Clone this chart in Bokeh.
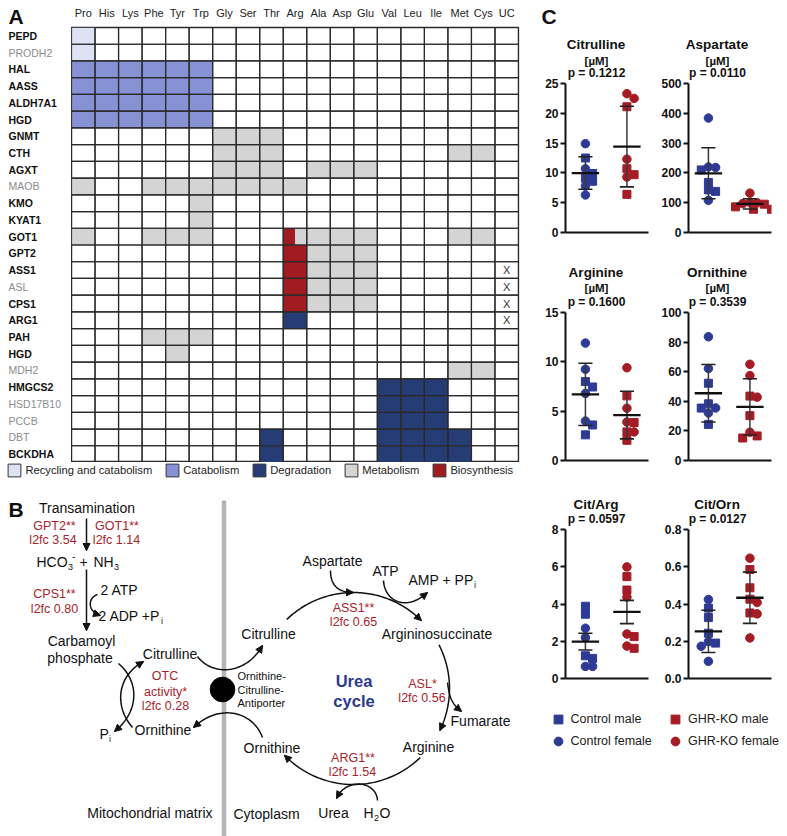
import numpy as np
from bokeh.plotting import figure
from bokeh.models import (FactorRange, Range1d, Legend, LegendItem, Arrow,
                          NormalHead, FixedTicker, NumeralTickFormatter, ColumnDataSource)
from bokeh.layouts import row, column
from bokeh.transform import dodge
from bokeh.embed import file_html
from bokeh.resources import INLINE
from bokeh.core.properties import value

FONT = "Liberation Sans"
BLACK = "#111111"
RED_TXT = "#a8232b"
BLUE = "#2e3a96"
RED = "#a51c24"
UREA_BLUE = "#2b3990"
NAN = float("nan")

# ================= Panel A data =================
amino_acids = ["Pro", "His", "Lys", "Phe", "Tyr", "Trp", "Gly", "Ser", "Thr", "Arg",
               "Ala", "Asp", "Glu", "Val", "Leu", "Ile", "Met", "Cys", "UC"]
genes = ["PEPD", "PRODH2", "HAL", "AASS", "ALDH7A1", "HGD", "GNMT", "CTH", "AGXT", "MAOB",
         "KMO", "KYAT1", "GOT1", "GPT2", "ASS1", "ASL", "CPS1", "ARG1", "PAH", "HGD",
         "MDH2", "HMGCS2", "HSD17B10", "PCCB", "DBT", "BCKDHA"]
gene_bold = [1, 0, 1, 1, 1, 1, 1, 1, 1, 0, 1, 1, 1, 1, 1, 0, 1, 1, 1, 1, 0, 1, 0, 0, 0, 1]
# r=recycling, c=catabolism, d=degradation, m=metabolism, b=biosynthesis,
# h=half biosynthesis / half metabolism, x=urea cycle mark
cell_codes = [
    "r..................",
    "r..................",
    "cccccc.............",
    "cccccc.............",
    "cccccc.............",
    "cccccc.............",
    "......mmm..........",
    "......mmm.......mm.",
    "......mmm.mmm......",
    "m..mmmmmmm.........",
    ".....m.............",
    ".....m.............",
    "m..mmm...hmmm...mm.",
    ".........bmmm......",
    ".........bmmm.....x",
    ".........bmmm.....x",
    ".........bmmm.....x",
    ".........d........x",
    "...mmm.............",
    "....m..............",
    "................mm.",
    ".............ddd...",
    ".............ddd...",
    ".............ddd...",
    "........d....dddd..",
    "........d....dddd..",
]
category_codes = ["r", "c", "d", "m", "b"]
category_labels = ["Recycling and catabolism", "Catabolism", "Degradation", "Metabolism", "Biosynthesis"]
category_colors = ["#dde3f4", "#8792d5", "#263c75", "#d4d4d4", "#a11c20"]

# ================= Panel C data =================
cit_ctrl_male = [12.5, 9.9, 9.1, 8.6]
cit_ctrl_female = [14.9, 10.7, 7.8, 6.3]
cit_ko_male = [21.1, 10.7, 9.7, 6.4]
cit_ko_female = [23.3, 22.5, 12.3, 9.3]
asp_ctrl_male = [210, 168, 143, 138]
asp_ctrl_female = [384, 220, 218, 108]
asp_ko_male = [95, 86, 78, 78]
asp_ko_female = [132, 101, 100, 97]
arg_ctrl_male = [8.0, 7.45, 3.6, 2.6]
arg_ctrl_female = [11.9, 9.25, 6.8, 4.0]
arg_ko_male = [6.55, 3.85, 2.9, 2.05]
arg_ko_female = [9.4, 5.3, 3.9, 2.9]
orn_ctrl_male = [52.2, 38.3, 35.4, 24.4]
orn_ctrl_female = [83.6, 62.1, 35.5, 32.1]
orn_ko_male = [43.5, 30.3, 16.6, 15.2]
orn_ko_female = [65.0, 57.4, 42.8, 19.1]
citarg_ctrl_male = [3.88, 3.45, 1.22, 1.08]
citarg_ctrl_female = [2.70, 2.20, 0.65, 0.65]
citarg_ko_male = [5.47, 4.75, 2.25, 1.62]
citarg_ko_female = [5.99, 4.37, 2.39, 1.74]
citorn_ctrl_male = [0.378, 0.327, 0.243, 0.190]
citorn_ctrl_female = [0.424, 0.198, 0.173, 0.092]
citorn_ko_male = [0.585, 0.487, 0.426, 0.352]
citorn_ko_female = [0.646, 0.408, 0.347, 0.218]

metabolites = ["Citrulline", "Aspartate", "Arginine", "Ornithine", "Cit/Arg", "Cit/Orn"]
units = ["[µM]", "[µM]", "[µM]", "[µM]", "", ""]
p_values = ["p = 0.1212", "p = 0.0110", "p = 0.1600", "p = 0.3539", "p = 0.0597", "p = 0.0127"]
y_max = [25, 500, 15, 100, 8, 0.8]
y_ticks = [[0, 5, 10, 15, 20, 25], [0, 100, 200, 300, 400, 500], [0, 5, 10, 15],
           [0, 20, 40, 60, 80, 100], [0, 2, 4, 6, 8], [0.0, 0.2, 0.4, 0.6, 0.8]]
tick_format = ["0", "0", "0", "0", "0", "0.0"]
error_kind = ["sd", "sd", "sd", "sd", "sem", "sd"]
legend_labels = ["Control male", "Control female", "GHR-KO male", "GHR-KO female"]

series_C = [
    (cit_ctrl_male, cit_ctrl_female, cit_ko_male, cit_ko_female),
    (asp_ctrl_male, asp_ctrl_female, asp_ko_male, asp_ko_female),
    (arg_ctrl_male, arg_ctrl_female, arg_ko_male, arg_ko_female),
    (orn_ctrl_male, orn_ctrl_female, orn_ko_male, orn_ko_female),
    (citarg_ctrl_male, citarg_ctrl_female, citarg_ko_male, citarg_ko_female),
    (citorn_ctrl_male, citorn_ctrl_female, citorn_ko_male, citorn_ko_female),
]

COMMON = dict(toolbar_location=None, output_backend="svg", frame_align=False)


def canvas(x0, y0, w, h):
    """A plain drawing figure whose data coordinates equal page pixels."""
    f = figure(width=w, height=h, x_range=Range1d(x0, x0 + w), y_range=Range1d(y0 + h, y0),
               min_border=0, x_axis_location=None, y_axis_location=None,
               outline_line_color=None, **COMMON)
    f.grid.visible = False
    return f


def put_text(f, s, x, y, size=14, color=BLACK, align="left", style="normal", baseline="middle"):
    f.text(x=[x], y=[y], text=[s], text_font=value(FONT), text_font_size=f"{size}px",
           text_color=color, text_align=align, text_baseline=baseline, text_font_style=style)


# ================= Panel A =================
NR, NC = len(genes), len(amino_acids)
row_keys = [f"{i:02d}-{g}" for i, g in enumerate(genes)]
A_LEFT, A_TOP, A_RIGHT = 71, 27, 22
A_H = 462
pa = figure(width=540 - A_LEFT, height=A_H, x_range=FactorRange(factors=amino_acids),
            y_range=FactorRange(factors=row_keys[::-1]), x_axis_location="above",
            y_axis_location=None, min_border_left=0, min_border_right=A_RIGHT,
            min_border_top=A_TOP, min_border_bottom=0,
            outline_line_color="#2a2a2a", outline_line_width=1.3, **COMMON)
pa.xgrid.visible = False
pa.ygrid.visible = False
xa = pa.xaxis[0]
xa.axis_line_color = None
xa.major_tick_line_color = None
xa.minor_tick_line_color = None
xa.major_label_standoff = 3
xa.major_label_text_font = FONT
xa.major_label_text_font_size = "11px"
xa.major_label_text_color = "#222222"

for code, color in zip(category_codes, category_colors):
    xs, ys = [], []
    for i, codes in enumerate(cell_codes):
        for j, c in enumerate(codes):
            if c == code or (code == "m" and c == "h"):
                xs.append(amino_acids[j]); ys.append(row_keys[i])
    pa.rect(x=xs, y=ys, width=1, height=1, fill_color=color, line_color=None)

hx, hy = [], []
for i, codes in enumerate(cell_codes):
    for j, c in enumerate(codes):
        if c == "h":
            hx.append(amino_acids[j]); hy.append(row_keys[i])
pa.rect(x=dodge("x", -0.25, range=pa.x_range), y="y", width=0.5, height=1,
        source=ColumnDataSource(dict(x=hx, y=hy)), fill_color=category_colors[4], line_color=None)

gx = [a for _ in row_keys for a in amino_acids]
gy = [r for r in row_keys for _ in amino_acids]
pa.rect(x=gx, y=gy, width=1, height=1, fill_color=None, line_color="#2a2a2a", line_width=1.2)

xx, xy = [], []
for i, codes in enumerate(cell_codes):
    for j, c in enumerate(codes):
        if c == "x":
            xx.append(amino_acids[j]); xy.append(row_keys[i])
pa.text(x=xx, y=xy, text=["X"] * len(xx), text_align="center", text_baseline="middle",
        text_font=value(FONT), text_font_size="11px", text_color="#333333")

# row labels of panel A (drawn in a narrow label strip left of the grid)
plab = canvas(0, 0, A_LEFT, A_H)
row_h = (A_H - A_TOP) / NR
put_text(plab, "A", 8, 4, 21, BLACK, "left", "bold", "top")
plab.text(x=[8] * NR, y=[A_TOP + (i + 0.5) * row_h for i in range(NR)], text=genes,
          text_font=value(FONT), text_font_size="10.5px",
          text_font_style=["bold" if b else "normal" for b in gene_bold],
          text_color=[BLACK if b else "#8c8c8c" for b in gene_bold],
          text_align="left", text_baseline="middle")

# ================= Panel B (diagram) =================
pb = canvas(0, A_H, 540, 836 - A_H)

items = []
for lab, color in zip(category_labels, category_colors):
    r = pb.rect(x=[NAN], y=[NAN], width=1, height=1, fill_color=color, line_color="#333333", line_width=1)
    items.append(LegendItem(label=lab, renderers=[r]))
legA = Legend(items=items, orientation="horizontal", location=(6.4, 836 - A_H - 16),
              margin=0, padding=0, spacing=12, glyph_width=16, glyph_height=16, label_standoff=3,
              label_height=16, label_text_font=FONT, label_text_font_size="11.2px",
              label_text_color="#222222", border_line_color=None, background_fill_alpha=0)
pb.add_layout(legA)

labels_B = [
    ("B", 8, 509, 21, BLACK, "left", "bold"),
    ("Transamination", 86.5, 507, 14, BLACK, "center", "normal"),
    ("GPT2**", 54, 525, 12.5, RED_TXT, "center", "normal"),
    ("l2fc 3.54", 52.5, 539, 12.5, RED_TXT, "center", "normal"),
    ("GOT1**", 116.5, 525, 12.5, RED_TXT, "center", "normal"),
    ("l2fc 1.14", 116, 539, 12.5, RED_TXT, "center", "normal"),
    ("HCO", 36, 561, 14, BLACK, "left", "normal"),
    ("3", 67.5, 566, 9, BLACK, "left", "normal"),
    ("-", 71.5, 555, 10, BLACK, "left", "normal"),
    ("+", 79, 561, 14, BLACK, "left", "normal"),
    ("NH", 93, 561, 14, BLACK, "left", "normal"),
    ("3", 113.5, 566, 9, BLACK, "left", "normal"),
    ("CPS1**", 54, 593, 12.5, RED_TXT, "center", "normal"),
    ("l2fc 0.80", 54, 608, 12.5, RED_TXT, "center", "normal"),
    ("2 ATP", 100, 589, 14, BLACK, "left", "normal"),
    ("2 ADP +P", 98, 615, 14, BLACK, "left", "normal"),
    ("i", 160.5, 620, 9, BLACK, "left", "normal"),
    ("Carbamoyl", 81, 640, 14, BLACK, "center", "normal"),
    ("phosphate", 79.5, 657, 14, BLACK, "center", "normal"),
    ("Citrulline", 169.5, 653, 14, BLACK, "center", "normal"),
    ("OTC", 164.5, 675, 12.5, RED_TXT, "center", "normal"),
    ("activity*", 165, 691, 12.5, RED_TXT, "center", "normal"),
    ("l2fc 0.28", 165, 705, 12.5, RED_TXT, "center", "normal"),
    ("P", 99, 733, 14, BLACK, "left", "normal"),
    ("i", 108.5, 738, 9, BLACK, "left", "normal"),
    ("Ornithine", 162.5, 729, 14, BLACK, "center", "normal"),
    ("Ornithine-", 237, 675, 11, BLACK, "left", "normal"),
    ("Citrulline-", 237, 689, 11, BLACK, "left", "normal"),
    ("Antiporter", 237, 702, 11, BLACK, "left", "normal"),
    ("Mitochondrial matrix", 212, 812, 14, BLACK, "right", "normal"),
    ("Cytoplasm", 233, 813, 14, BLACK, "left", "normal"),
    ("Citrulline", 268, 633, 14, BLACK, "center", "normal"),
    ("Aspartate", 332, 560, 14, BLACK, "center", "normal"),
    ("ATP", 385, 570, 14, BLACK, "center", "normal"),
    ("AMP + PP", 408, 579, 14, BLACK, "left", "normal"),
    ("i", 473.5, 584, 9, BLACK, "left", "normal"),
    ("ASS1**", 353, 607, 12.5, RED_TXT, "center", "normal"),
    ("l2fc 0.65", 353, 621, 12.5, RED_TXT, "center", "normal"),
    ("Argininosuccinate", 436.5, 633, 14, BLACK, "center", "normal"),
    ("Urea", 353.5, 680, 16.5, UREA_BLUE, "center", "bold"),
    ("cycle", 353.5, 700, 16.5, UREA_BLUE, "center", "bold"),
    ("ASL*", 422, 683, 12.5, RED_TXT, "center", "normal"),
    ("l2fc 0.56", 421.5, 697, 12.5, RED_TXT, "center", "normal"),
    ("Fumarate", 480, 720, 14, BLACK, "center", "normal"),
    ("Arginine", 428, 746, 14, BLACK, "center", "normal"),
    ("Ornithine", 271.5, 747, 14, BLACK, "center", "normal"),
    ("ARG1**", 352.5, 757, 12.5, RED_TXT, "center", "normal"),
    ("l2fc 1.54", 352, 771, 12.5, RED_TXT, "center", "normal"),
    ("Urea", 333, 812, 14, BLACK, "center", "normal"),
    ("H", 363, 812, 14, BLACK, "left", "normal"),
    ("2", 373.5, 817, 9, BLACK, "left", "normal"),
    ("O", 379, 812, 14, BLACK, "left", "normal"),
]

pb.segment(x0=[223.5], y0=[500], x1=[223.5], y1=[836], line_width=4.5, line_color="#b4b4b4")
pb.circle(x=[222], y=[689], radius=12.3, fill_color="black", line_color="black")

for s, x, y, size, color, align, style in labels_B:
    put_text(pb, s, x, y, size, color, align, style)


def head(xs, ys, x1, y1):
    pb.add_layout(Arrow(x_start=xs, y_start=ys, x_end=x1, y_end=y1, line_color=None,
                        end=NormalHead(size=7, fill_color=BLACK, line_color=BLACK, line_width=1)))


def straight(x0, y0, x1, y1):
    pb.line(x=[x0, x1], y=[y0, y1], line_width=1.5, line_color=BLACK)
    head(x0, y0, x1, y1)


def bez(p0, c0, c1, p1):
    t = np.linspace(0, 1, 40)
    bx = (1 - t) ** 3 * p0[0] + 3 * (1 - t) ** 2 * t * c0[0] + 3 * (1 - t) * t ** 2 * c1[0] + t ** 3 * p1[0]
    by = (1 - t) ** 3 * p0[1] + 3 * (1 - t) ** 2 * t * c0[1] + 3 * (1 - t) * t ** 2 * c1[1] + t ** 3 * p1[1]
    pb.line(x=bx, y=by, line_width=1.5, line_color=BLACK)
    head(bx[-4], by[-4], bx[-1], by[-1])


def arc(cx, cy, r, a0, a1):
    a = np.radians(np.linspace(a0, a1, 80))
    ax = cx + r * np.cos(a)
    ay = cy - r * np.sin(a)
    pb.line(x=ax, y=ay, line_width=1.5, line_color=BLACK)
    head(ax[-4], ay[-4], ax[-1], ay[-1])


straight(86, 518, 86, 550)
straight(86, 569, 86, 630)
bez((97, 594), (86, 598), (88, 612), (100, 615))
bez((118, 663), (140, 682), (138, 712), (114, 731))
bez((132, 727), (113, 705), (117, 675), (143, 661))
bez((197, 656), (212, 676), (246, 674), (262, 645))
bez((262, 737), (252, 710), (218, 703), (193, 727))
bez((330, 570), (330, 587), (340, 592), (353, 592))
bez((383, 580), (384, 600), (405, 612), (427, 592))
bez((447, 682), (449, 698), (452, 704), (461, 711))
bez((377, 800), (376, 780), (345, 777), (336, 798))
arc(353, 688, 96, 134, 45)
arc(353, 688, 96, 27, -26)
arc(353, 688, 96, -46, -136)

# ================= Panel C =================
# header strips with the metabolite names: (top, height, name y)
headers = [(0, 52, 44), (250, 30, 272), (490, 22, 504)]
# plot rows: (top, height, x-axis y, y of axis top, unit y, p-value y)
plot_rows = [(52, 198, 232, 83, 60, 72),
             (280, 210, 460, 312, 287, 301),
             (512, 178, 678, 529, None, 518)]
# plot columns: (left, width, left border, right border, title centre x)
plot_cols = [(540, 118, 25, 10, 596), (658, 129, 30, 16, 717)]


def swarm(vals, px_per_unit, diam=7.0, step=3.6):
    vals = np.asarray(vals, float)
    order = np.argsort(-vals)
    placed = []
    off = np.zeros(len(vals))
    cands = [0.0]
    for k in range(1, 8):
        cands += [k * step, -k * step]
    for i in order:
        y = vals[i] * px_per_unit
        chosen = cands[-1]
        for dx in cands:
            if all((dx - qx) ** 2 + (y - qy) ** 2 >= diam ** 2 for qx, qy in placed):
                chosen = dx
                break
        placed.append((chosen, y))
        off[i] = chosen
    return off


def scatter_panel(k, col, rw):
    left0, w, bl, br, tcx = col
    top, h, xaxis_y, ymax_y, unit_y, p_y = rw
    fw = w - bl - br
    fh = xaxis_y - top
    bb = top + h - xaxis_y
    ymax = y_max[k]
    ppu = (xaxis_y - ymax_y) / ymax
    p = figure(width=w, height=h, x_range=Range1d(0.52, 2.52), y_range=Range1d(0, fh / ppu),
               min_border_left=bl, min_border_right=br, min_border_top=0, min_border_bottom=bb,
               outline_line_color=None, **COMMON)
    p.grid.visible = False
    ya = p.yaxis[0]
    ya.bounds = (0, ymax)
    ya.ticker = FixedTicker(ticks=y_ticks[k])
    ya.formatter = NumeralTickFormatter(format=tick_format[k])
    ya.axis_line_width = 2
    ya.axis_line_color = BLACK
    ya.major_tick_line_width = 2
    ya.major_tick_line_color = BLACK
    ya.major_tick_out = 5
    ya.major_tick_in = 0
    ya.minor_tick_line_color = None
    ya.major_label_standoff = 2
    ya.major_label_text_font = FONT
    ya.major_label_text_font_size = "12px"
    ya.major_label_text_font_style = "bold"
    ya.major_label_text_color = BLACK
    xax = p.xaxis[0]
    xax.ticker = FixedTicker(ticks=[])
    xax.axis_line_width = 2
    xax.axis_line_color = BLACK
    xax.major_tick_line_color = None
    xax.minor_tick_line_color = None
    xax.major_tick_out = 0
    xax.major_label_standoff = 0

    xsc = 2.0 / fw
    cm, cf, km, kf = series_C[k]
    for gi, (male, female, color) in enumerate([(cm, cf, BLUE), (km, kf, RED)]):
        center = gi + 1
        vals = list(male) + list(female)
        off = swarm(vals, ppu)
        xs = center + off * xsc
        nm = len(male)
        p.scatter(x=xs[:nm], y=male, marker="square", size=8, fill_color=color, line_color=color)
        p.scatter(x=xs[nm:], y=female, marker="circle", size=8.5, fill_color=color, line_color=color)
        arr = np.asarray(vals, float)
        m = arr.mean()
        sd = arr.std(ddof=1)
        e = sd if error_kind[k] == "sd" else sd / np.sqrt(len(arr))
        p.segment(x0=[center], y0=[m - e], x1=[center], y1=[m + e], line_width=1.5, line_color="#3a3a3a")
        p.segment(x0=[center - 0.17] * 2, y0=[m - e, m + e], x1=[center + 0.17] * 2, y1=[m - e, m + e],
                  line_width=1.6, line_color="#222222")
        p.segment(x0=[center - 0.33], y0=[m], x1=[center + 0.33], y1=[m], line_width=2.3, line_color=BLACK)

    # unit and p-value lines, placed above the axis top inside the frame
    tx = 0.52 + (tcx - (left0 + bl)) * xsc
    if unit_y is not None and units[k]:
        p.text(x=[tx], y=[(xaxis_y - unit_y) / ppu], text=[units[k]], text_font=value(FONT),
               text_font_size="11.5px", text_font_style="bold", text_color=BLACK,
               text_align="center", text_baseline="middle")
    p.text(x=[tx], y=[(xaxis_y - p_y) / ppu], text=[p_values[k]], text_font=value(FONT),
           text_font_size="12px", text_font_style="bold", text_color=BLACK,
           text_align="center", text_baseline="middle")
    return p


right_children = []
for r_i, ((hy0, hh, name_y), rw) in enumerate(zip(headers, plot_rows)):
    hf = canvas(540, hy0, 247, hh)
    if r_i == 0:
        put_text(hf, "C", 541, 4, 21, BLACK, "left", "bold", "top")
    for c_i, col in enumerate(plot_cols):
        k = 2 * r_i + c_i
        put_text(hf, metabolites[k], col[4] - 0.5, name_y, 13.5, BLACK, "center", "bold")
    right_children.append(hf)
    right_children.append(row(*[scatter_panel(2 * r_i + c_i, col, rw) for c_i, col in enumerate(plot_cols)]))

# legend strip for panel C
fleg = canvas(540, 690, 247, 146)
r_cm = fleg.scatter(x=[NAN], y=[NAN], marker="square", size=9, fill_color=BLUE, line_color=BLUE)
r_cf = fleg.scatter(x=[NAN], y=[NAN], marker="circle", size=9, fill_color=BLUE, line_color=BLUE)
r_km = fleg.scatter(x=[NAN], y=[NAN], marker="square", size=9, fill_color=RED, line_color=RED)
r_kf = fleg.scatter(x=[NAN], y=[NAN], marker="circle", size=9, fill_color=RED, line_color=RED)
leg_kw = dict(orientation="vertical", margin=0, padding=0, spacing=0, glyph_width=22, glyph_height=22,
              label_standoff=2, label_height=22, label_text_font=FONT, label_text_font_size="12.5px",
              label_text_color="#222222", border_line_color=None, background_fill_alpha=0)
leg1 = Legend(items=[LegendItem(label=legend_labels[0], renderers=[r_cm]),
                     LegendItem(label=legend_labels[1], renderers=[r_cf])], location=(6.5, 84), **leg_kw)
leg2 = Legend(items=[LegendItem(label=legend_labels[2], renderers=[r_km]),
                     LegendItem(label=legend_labels[3], renderers=[r_kf])], location=(124, 84), **leg_kw)
fleg.add_layout(leg1)
fleg.add_layout(leg2)
right_children.append(fleg)

left = column(row(plab, pa), pb)
right = column(*right_children)
layout = row(left, right)

open("out.html", "w").write(file_html(layout, INLINE))
